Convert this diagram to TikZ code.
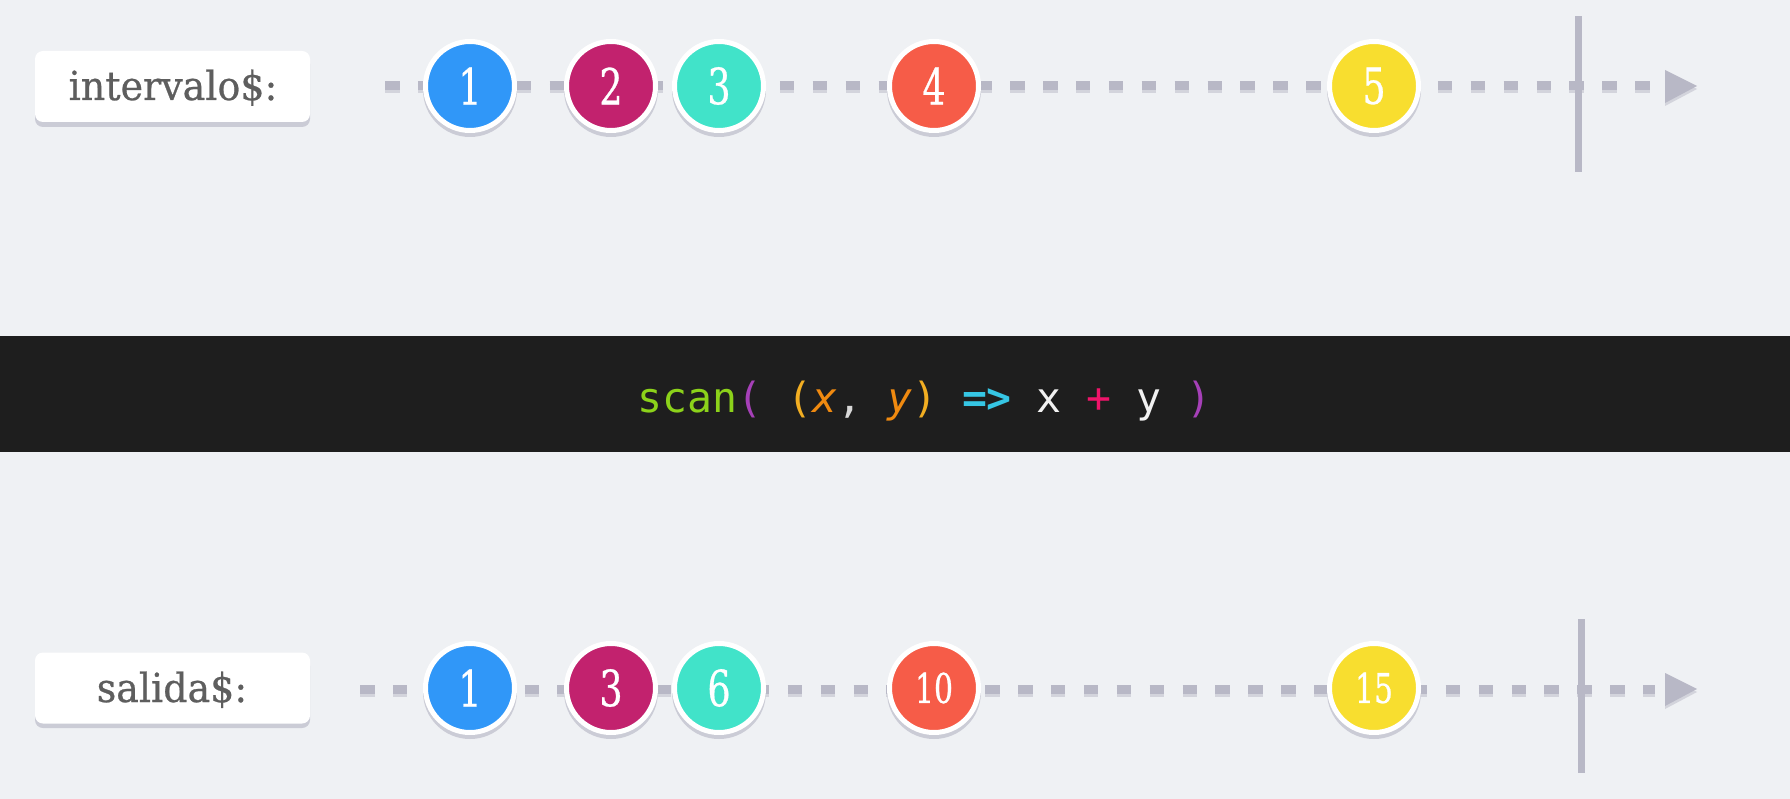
\documentclass[tikz,border=0pt]{standalone}
\usepackage{fontspec}
\newfontfamily\labfont[FakeStretch=0.95,FakeBold=0.6]{DejaVu Serif}
\newfontfamily\numfont[FakeStretch=0.73,FakeBold=0.5]{DejaVu Serif}
\newfontfamily\codefont{DejaVu Sans Mono}
\definecolor{bg}{HTML}{EFF1F4}
\definecolor{dashc}{HTML}{B8B8C6}
\definecolor{dashsh}{HTML}{D3D4DC}
\definecolor{shadowc}{HTML}{CBCCD6}
\definecolor{labtext}{HTML}{5E5E5E}
\definecolor{cblue}{HTML}{3097F8}
\definecolor{cmag}{HTML}{C2226E}
\definecolor{cteal}{HTML}{41E3C9}
\definecolor{cred}{HTML}{F65C48}
\definecolor{cyel}{HTML}{F8DE2F}
\definecolor{codebg}{HTML}{1E1E1E}
\definecolor{cgreen}{HTML}{8CD21A}
\definecolor{cpurple}{HTML}{A640B8}
\definecolor{cparen}{HTML}{F2AE22}
\definecolor{cvar}{HTML}{F08A10}
\definecolor{ccomma}{HTML}{D8D8D8}
\definecolor{ccyan}{HTML}{36C6E4}
\definecolor{cwhite}{HTML}{F2F2F2}
\definecolor{cpink}{HTML}{F0146A}
\tikzset{
  timeline/.style={draw=dashc, line width=9pt, dash pattern=on 14.5pt off 18.4pt},
  timelinesh/.style={draw=dashsh, line width=9pt, dash pattern=on 14.5pt off 18.4pt},
  marble/.style={circle, draw=white, line width=5pt, minimum size=89pt, inner sep=0pt, text=white},
  onedigit/.style={font=\numfont\fontsize{50}{50}\selectfont},
  twodigit/.style={font=\numfont\fontsize{41}{41}\selectfont},
  labbox/.style={rectangle, rounded corners=8pt, fill=white, minimum width=275pt, minimum height=71pt, inner sep=0pt},
  labshadow/.style={fill=shadowc, rounded corners=8pt},
  labtxt/.style={anchor=base, text=labtext, inner sep=0pt, font=\labfont\fontsize{40}{40}\selectfont},
  endbar/.style={fill=dashc},
  arrowtip/.style={fill=dashc},
}
\begin{document}
\begin{tikzpicture}[x=1pt, y=-1pt]
\useasboundingbox (0,0) rectangle (1790,799);
\fill[bg] (0,0) rectangle (1790,799);

% ---------- top stream ----------
\fill[labshadow] (35,56) rectangle (310,127);
\node[labbox] (lab1) at (172.5,86.5) {};
\node[labtxt] (lab1t) at (173,100) {intervalo\$:};

\coordinate (ts) at (385,86);
\coordinate (te) at (1655,86);
\coordinate (tt) at (1697,86);
\draw[timelinesh] ([yshift=-3pt]ts) -- ([yshift=-3pt]te);
\draw[timeline] (ts) -- (te);
\fill[dashsh] (1665,73) -- (1697,89) -- (1665,106) -- cycle;
\fill[arrowtip] (1665,70) -- (tt) -- (1665,103) -- cycle;
\fill[endbar] (1575,16) rectangle (1582,172);

\foreach \x/\c/\t/\n in {470/cblue/1/a1, 611/cmag/2/a2, 719/cteal/3/a3, 934/cred/4/a4, 1374/cyel/5/a5}{
  \fill[shadowc] (\x,90) circle[radius=47pt];
  \node[marble, fill=\c, onedigit] (\n) at (\x,86) {\t};
}

% ---------- operator band ----------
\fill[codebg] (0,336) rectangle (1790,452);
\node[anchor=base west, inner sep=0pt, font=\codefont\fontsize{41.5}{41.5}\selectfont] (code) at (637,412)
 {\textcolor{cgreen}{scan}\textcolor{cpurple}{(} \textcolor{cparen}{(}\textcolor{cvar}{\itshape x}\textcolor{ccomma}{,} \textcolor{cvar}{\itshape y}\textcolor{cparen}{)} \textcolor{ccyan}{\bfseries =>} \textcolor{cwhite}{x} \textcolor{cpink}{+} \textcolor{cwhite}{y} \textcolor{cpurple}{)}};

% ---------- bottom stream ----------
\fill[labshadow] (35,658) rectangle (310,728);
\node[labbox] (lab2) at (172.5,688) {};
\node[labtxt] (lab2t) at (172,702) {salida\$:};

\coordinate (bs) at (360,689);
\coordinate (be) at (1655,689);
\coordinate (bt) at (1697,689);
\draw[timelinesh] ([yshift=-3pt]bs) -- ([yshift=-3pt]be);
\draw[timeline] (bs) -- (be);
\fill[dashsh] (1665,676) -- (1697,692) -- (1665,709) -- cycle;
\fill[arrowtip] (1665,673) -- (bt) -- (1665,706) -- cycle;
\fill[endbar] (1578,619) rectangle (1585,773);

\foreach \x/\c/\t/\n/\s in {470/cblue/1/b1/onedigit, 611/cmag/3/b2/onedigit, 719/cteal/6/b3/onedigit, 934/cred/10/b4/twodigit, 1374/cyel/15/b5/twodigit}{
  \fill[shadowc] (\x,692) circle[radius=47pt];
  \node[marble, fill=\c, \s] (\n) at (\x,688) {\t};
}
\end{tikzpicture}
\end{document}
